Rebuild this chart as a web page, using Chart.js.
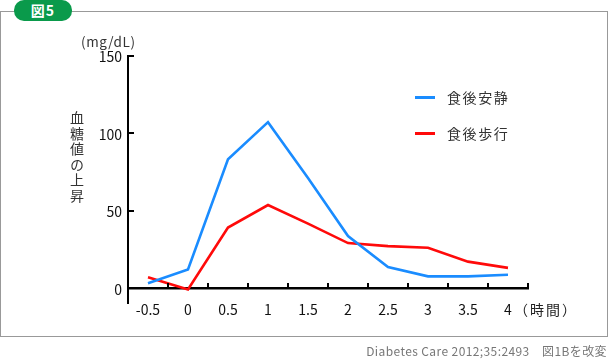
<!DOCTYPE html>
<html lang="ja">
<head>
<meta charset="utf-8">
<script src="https://cdn.jsdelivr.net/npm/chart.js@4/dist/chart.umd.min.js"></script>
<style>
  html, body { margin: 0; padding: 0; background: #fff; }
  body { width: 610px; height: 359px; position: relative; overflow: hidden;
         font-family: "Noto Sans CJK JP", "Noto Sans", sans-serif; color: #333; }
  #frame { position: absolute; left: 0; top: 11px; width: 608px; height: 326px;
           border: 1px solid #999; box-sizing: border-box; }
  #badge { position: absolute; left: 14px; top: 0; width: 58px; height: 21px;
           background: #0a9a4b; border-radius: 10px; color: #fff; font-weight: bold;
           font-size: 14px; line-height: 21px; text-align: center; letter-spacing: 1px; }
  canvas#c { position: absolute; left: 0; top: 0; }
  .txt { position: absolute; white-space: nowrap; }
  #unit { left: 81px; top: 32px; font-size: 13.5px; letter-spacing: 0.6px; color: #333; line-height: 18px; }
  #ytitle { left: 69px; top: 111px; font-size: 14px; writing-mode: vertical-rl; letter-spacing: 1.5px; color: #333; line-height: 16px; }
  #xunit { left: 514px; top: 300px; font-size: 14px; color: #222; line-height: 18px; letter-spacing: 2px; }
  #foot { right: 3px; top: 343px; font-size: 12px; color: #777; line-height: 16px; letter-spacing: 0.4px; }
  .leg { position: absolute; left: 415px; height: 18px; }
  .leg .sw { position: absolute; left: 0; top: 8px; width: 20px; height: 3px; }
  .leg .lb { position: absolute; left: 32px; top: 0; font-size: 14px; line-height: 18px; letter-spacing: 1.6px; color: #333; white-space: nowrap; }
</style>
</head>
<body>
<div id="frame"></div>
<div id="badge">図5</div>
<canvas id="c" width="610" height="359" style="width:610px;height:359px"></canvas>
<div class="txt" id="unit">(mg/dL)</div>
<div class="txt" id="ytitle">血糖値の上昇</div>
<div class="txt" id="xunit">（時間）</div>
<div class="txt" id="foot">Diabetes Care 2012;35:2493　図1Bを改変</div>
<div id="legend"></div>
<script>
// ---- data ----
const categories = ['-0.5', '0', '0.5', '1', '1.5', '2', '2.5', '3', '3.5', '4'];
const seriesNames = ['食後安静', '食後歩行'];
const restValues = [3, 12, 83, 107, 71, 33.5, 13.5, 7.5, 7.5, 8.5];
const walkValues = [7, -1, 39, 53.5, 41.5, 29, 27, 26, 17, 13];
const yTickValues = [0, 50, 100, 150];
const seriesColors = ['#1a8cff', '#ff0a0a'];

const FONT = '"Noto Sans CJK JP", "Noto Sans", sans-serif';

// HTML legend built from series
const legend = document.getElementById('legend');
seriesNames.forEach((name, i) => {
  const d = document.createElement('div');
  d.className = 'leg';
  d.style.top = (88 + i * 36) + 'px';
  d.innerHTML = '<div class="sw" style="background:' + seriesColors[i] + '"></div><div class="lb">' + name + '</div>';
  legend.appendChild(d);
});

const innerTicks = {
  id: 'innerTicks',
  afterDraw(chart) {
    const ctx = chart.ctx;
    const xs = chart.scales.x, ys = chart.scales.y;
    const left = chart.chartArea.left;
    const y0 = ys.getPixelForValue(0);
    ctx.save();
    ctx.strokeStyle = '#000';
    ctx.lineWidth = 2;
    yTickValues.forEach(v => {
      const y = Math.round(ys.getPixelForValue(v));
      ctx.beginPath();
      ctx.moveTo(left, y);
      ctx.lineTo(left + 6, y);
      ctx.stroke();
    });
    const half = (xs.getPixelForTick(1) - xs.getPixelForTick(0)) / 2;
    for (let i = 0; i < categories.length; i++) {
      const x = Math.round(xs.getPixelForTick(i) + half);
      ctx.beginPath();
      ctx.moveTo(x, y0);
      ctx.lineTo(x, y0 - 5);
      ctx.stroke();
    }
    ctx.restore();
  }
};

new Chart(document.getElementById('c'), {
  type: 'line',
  data: {
    labels: categories,
    datasets: [
      { label: seriesNames[0], data: restValues, borderColor: seriesColors[0], backgroundColor: seriesColors[0] },
      { label: seriesNames[1], data: walkValues, borderColor: seriesColors[1], backgroundColor: seriesColors[1] }
    ]
  },
  options: {
    responsive: false,
    animation: false,
    devicePixelRatio: 1,
    layout: { padding: { top: 55.5, right: 82, bottom: 55.5, left: 0 } },
    plugins: { legend: { display: false }, tooltip: { enabled: false } },
    elements: {
      point: { radius: 0, hoverRadius: 0 },
      line: { tension: 0, borderWidth: 2.6, fill: false, borderJoinStyle: 'miter' }
    },
    scales: {
      x: {
        type: 'category',
        position: { y: 0 },
        offset: true,
        grid: { display: true, drawOnChartArea: false, drawTicks: false, offset: true },
        border: { display: true, color: '#000', width: 2.6 },
        ticks: { padding: 13, color: '#111', font: { family: FONT, size: 14 }, maxRotation: 0, autoSkip: false }
      },
      y: {
        type: 'linear',
        min: -10,
        max: 150,
        afterBuildTicks: s => { s.ticks = yTickValues.map(v => ({ value: v })); },
        afterFit: s => { s.width = 128; },
        grid: { display: true, drawOnChartArea: false, drawTicks: false },
        border: { display: true, color: '#000', width: 2 },
        ticks: { padding: 6, labelOffset: 1.5, color: '#111', font: { family: FONT, size: 14 } }
      }
    }
  },
  plugins: [innerTicks]
});
</script>
</body>
</html>
